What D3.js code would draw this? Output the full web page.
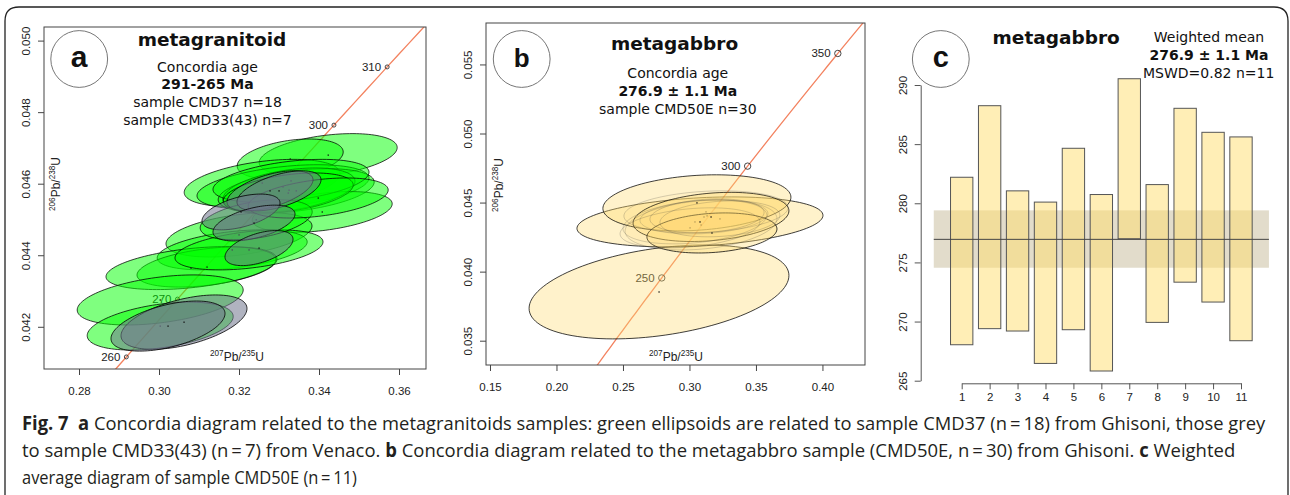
<!DOCTYPE html>
<html><head><meta charset="utf-8">
<script src="https://cdn.jsdelivr.net/npm/d3@7"></script>
<style>body{margin:0;background:#fff}</style>
</head><body>
<svg id="fig" width="1290" height="495" xmlns="http://www.w3.org/2000/svg"></svg>
<script>
// ---------------- DATA ----------------
// Panel a: metagranitoid, sample CMD37 (green, n=18): 207Pb/235U, 206Pb/238U, errors, correlation
const greenX   = [0.3423,0.3328,0.3258,0.3310,0.3343,0.3408,0.3325,0.3200,0.3183,0.3120,0.3080,0.3225,0.3003,0.3003,0.3330,0.3323,0.3243,0.3398];
const greenY   = [0.04680,0.04669,0.04602,0.04591,0.04580,0.04521,0.04582,0.04457,0.04415,0.04367,0.04364,0.04415,0.04275,0.04202,0.04608,0.04574,0.04499,0.04560];
const greenSX  = [0.01725,0.01325,0.0195,0.0215,0.0195,0.0175,0.0165,0.01825,0.01875,0.0175,0.02125,0.0185,0.02075,0.01825,0.0195,0.01625,0.0140,0.0175];
const greenSY  = [0.00060,0.00056,0.00066,0.00062,0.00062,0.00057,0.00062,0.00062,0.00056,0.00056,0.00060,0.00056,0.00070,0.00067,0.00060,0.00056,0.00056,0.00056];
const greenRho = [0.35,0.35,0.40,0.40,0.40,0.40,0.40,0.40,0.40,0.40,0.40,0.40,0.40,0.40,0.40,0.40,0.40,0.40];
// Panel a: sample CMD33(43) (grey, n=7)
const greyX   = [0.30625,0.30225,0.32775,0.3300,0.3205,0.32375,0.3250];
const greyY   = [0.04213,0.04202,0.04580,0.04580,0.04521,0.04490,0.04420];
const greySX  = [0.01575,0.01425,0.01075,0.0105,0.00975,0.01025,0.0085];
const greySY  = [0.00076,0.00070,0.00056,0.00056,0.00050,0.00050,0.00049];
const greyRho = [0.50,0.50,0.55,0.55,0.50,0.50,0.50];
// Panel b: metagabbro CMD50E
const gabX   = [0.2771,0.3079,0.3056,0.3162,0.3169,0.3087,0.3109,0.3041,0.3124,0.3004,0.3229,0.3132];
const gabY   = [0.03853,0.04360,0.04498,0.04396,0.04280,0.04338,0.04396,0.04360,0.04433,0.04317,0.04382,0.04404];
const gabSX  = [0.0977,0.0925,0.0707,0.0586,0.0489,0.0571,0.0481,0.0541,0.0617,0.0526,0.0451,0.0429];
const gabSY  = [0.00340,0.00181,0.00203,0.00178,0.00145,0.00181,0.00123,0.00159,0.00152,0.00145,0.00130,0.00123];
const gabRho = [0.35,0.26,0.20,0.25,0.20,0.25,0.20,0.30,0.20,0.30,0.20,0.20];
const gabMain = [true,true,true,true,true,false,false,false,false,false,false,false];
// Concordia age marks (Ma)
const agesA = [260,270,300,310];
const agesB = [250,300,350];
// Axis ticks
const xTicksA = [0.28,0.30,0.32,0.34,0.36];
const yTicksA = [0.042,0.044,0.046,0.048,0.050];
const xTicksB = [0.15,0.20,0.25,0.30,0.35,0.40];
const yTicksB = [0.035,0.040,0.045,0.050,0.055];
// Panel c: weighted mean (ages, Ma)
const wmIndex = [1,2,3,4,5,6,7,8,9,10,11];
const wmTop    = [282.2,288.25,281.05,280.1,284.65,280.74,290.53,281.58,288.03,286.0,285.61];
const wmBottom = [268.04,269.4,269.2,266.46,269.31,265.82,277.0,269.93,273.33,271.65,268.38];
const wmMean = 276.95, wmLo = 274.55, wmHi = 279.4;
const yTicksC = [265,270,275,280,285,290];
// decay constants (per Ma)
const L238 = 1.55125e-4, L235 = 9.8485e-4;

// ---------------- DRAW ----------------
const svg = d3.select('#fig');
const TXT = "'DejaVu Sans', sans-serif";
const TICK = "'Liberation Sans', Arial, sans-serif";
const concX = t => Math.exp(L235*t)-1;
const concY = t => Math.exp(L238*t)-1;

// outer frame
svg.append('path')
  .attr('d','M5,520 L5,21 Q5,7 19,7 L1274,7 Q1288,7 1288,21 L1288,520')
  .attr('fill','none').attr('stroke','#222').attr('stroke-width',1.3);

function ellipsePts(cx, cy, sx, sy, r){
  return d3.range(121).map(i=>{
    const t = 2*Math.PI*i/120;
    return [cx + sx*Math.cos(t), cy + sy*(r*Math.cos(t) + Math.sqrt(1-r*r)*Math.sin(t))];
  });
}

function supLabel(t, parts, size){
  t.append('tspan').attr('font-size', size*0.68).attr('dy', -size*0.38).text(parts[0]);
  t.append('tspan').attr('font-size', size).attr('dy', size*0.38).text(parts[1]);
  t.append('tspan').attr('font-size', size*0.68).attr('dy', -size*0.38).text(parts[2]);
  t.append('tspan').attr('font-size', size).attr('dy', size*0.38).text(parts[3]);
}

function concordiaPanel(cfg){
  const {x, y, id} = cfg;
  const [x0,x1] = x.range(), [y1,y0] = y.range();
  const g = svg.append('g');
  svg.append('defs').append('clipPath').attr('id', id)
    .append('rect').attr('x',x0).attr('y',y0).attr('width',x1-x0).attr('height',y1-y0);
  const pg = g.append('g').attr('clip-path',`url(#${id})`);
  // concordia curve
  const ages = d3.range(150, 420, 2);
  pg.append('path')
    .attr('d', d3.line().x(t=>x(concX(t))).y(t=>y(concY(t)))(ages))
    .attr('fill','none').attr('stroke','#f3825f').attr('stroke-width',1.3);
  // age marks
  pg.selectAll('circle.age').data(cfg.ages).join('circle')
    .attr('cx',t=>x(concX(t))).attr('cy',t=>y(concY(t))).attr('r',cfg.markR)
    .attr('fill','none').attr('stroke','#333').attr('stroke-width',0.9);
  pg.selectAll('text.age').data(cfg.ages).join('text')
    .attr('x',t=>x(concX(t))-cfg.markR-4).attr('y',t=>y(concY(t))+4)
    .attr('text-anchor','end').attr('font-family',TICK).attr('font-size',11.5).attr('fill','#222')
    .text(t=>t);
  // ellipses
  const line = d3.line().x(d=>x(d[0])).y(d=>y(d[1]));
  cfg.sets.forEach(s=>{
    s.X.forEach((cx,i)=>{
      const main = s.main ? s.main[i] : true;
      pg.append('path').attr('d', line(ellipsePts(cx, s.Y[i], s.SX[i], s.SY[i], s.R[i])))
        .attr('fill', main ? s.fill : s.fillFaint)
        .attr('stroke', main ? s.stroke : s.strokeFaint).attr('stroke-width', 1);
    });
    s.X.forEach((cx,i)=>{
      const main = s.main ? s.main[i] : true;
      pg.append('rect').attr('x', x(cx)-0.6).attr('y', y(s.Y[i])-0.6).attr('width',1.3).attr('height',1.3)
        .attr('fill', main ? '#111' : 'rgba(0,0,0,0.3)');
    });
  });
  // box
  g.append('rect').attr('x',x0).attr('y',y0).attr('width',x1-x0).attr('height',y1-y0)
    .attr('fill','none').attr('stroke','#444').attr('stroke-width',1);
  // axes
  const ax = g.append('g').attr('transform',`translate(0,${y1})`)
    .call(d3.axisBottom(x).tickValues(cfg.xTicks).tickFormat(d3.format('.2f')).tickSize(6).tickPadding(12));
  const ay = g.append('g').attr('transform',`translate(${x0},0)`)
    .call(d3.axisLeft(y).tickValues(cfg.yTicks).tickFormat(d3.format('.3f')).tickSize(6));
  [ax,ay].forEach(a=>{
    a.select('.domain').remove();
    a.selectAll('line').attr('stroke','#444');
    a.selectAll('text').attr('font-family',TICK).attr('font-size',11.5).attr('fill','#222');
  });
  ay.selectAll('text').attr('x',null).attr('dy',null).attr('text-anchor','middle')
    .attr('transform','translate(-14,0) rotate(-90)');
  // axis titles
  const xt = g.append('text').attr('x',cfg.xLab[0]).attr('y',cfg.xLab[1]).attr('text-anchor','middle')
    .attr('font-family',TICK).attr('fill','#222');
  supLabel(xt, ['207','Pb/','235','U'], 12);
  const yt = g.append('text').attr('transform',`translate(${cfg.yLab[0]},${cfg.yLab[1]}) rotate(-90)`)
    .attr('text-anchor','middle').attr('font-family',TICK).attr('fill','#222');
  supLabel(yt, ['206','Pb/','238','U'], 12);
  return g;
}

// Panel a
const xA = d3.scaleLinear().domain([0.27125,0.36675]).range([44,426]);
const yA = d3.scaleLinear().domain([0.04082,0.05038]).range([369,27]);
concordiaPanel({x:xA, y:yA, id:'clipA', ages:agesA, markR:2, xTicks:xTicksA, yTicks:yTicksA,
  xLab:[237,361], yLab:[60,184],
  sets:[
    {X:greenX,Y:greenY,SX:greenSX,SY:greenSY,R:greenRho,fill:'rgba(0,255,0,0.5)',stroke:'rgba(0,0,0,0.75)'},
    {X:greyX,Y:greyY,SX:greySX,SY:greySY,R:greyRho,fill:'rgba(112,116,140,0.55)',stroke:'rgba(0,0,0,0.8)'}
  ]});

// Panel b
const xB = d3.scaleLinear().domain([0.147,0.432]).range([486,865]);
const yB = d3.scaleLinear().domain([0.03324,0.05800]).range([365,23]);
concordiaPanel({x:xB, y:yB, id:'clipB', ages:agesB, markR:3.2, xTicks:xTicksB, yTicks:yTicksB,
  xLab:[676,361], yLab:[503,185],
  sets:[
    {X:gabX,Y:gabY,SX:gabSX,SY:gabSY,R:gabRho,main:gabMain,
     fill:'rgba(255,218,110,0.36)',fillFaint:'rgba(255,218,110,0.08)',
     stroke:'rgba(0,0,0,0.75)',strokeFaint:'rgba(60,60,60,0.22)'}
  ]});

// Panel c
const xC = d3.scaleLinear().domain([1,11]).range([961.7,1241]);
const yC = d3.scaleLinear().domain([265,290]).range([380.7,85]);
const gc = svg.append('g');
gc.append('rect').attr('x',xC(0)).attr('width',xC(12)-xC(0))
  .attr('y',yC(wmHi)).attr('height',yC(wmLo)-yC(wmHi)).attr('fill','#e2dccb');
gc.selectAll('rect.bar').data(wmIndex).join('rect').attr('class','bar')
  .attr('x',i=>xC(i-0.4)).attr('width',xC(1.4)-xC(0.6))
  .attr('y',(i,k)=>yC(wmTop[k])).attr('height',(i,k)=>yC(wmBottom[k])-yC(wmTop[k]))
  .attr('fill','rgba(255,222,110,0.5)').attr('stroke','#555').attr('stroke-width',1);
gc.append('line').attr('x1',xC(0)).attr('x2',xC(12)).attr('y1',yC(wmMean)).attr('y2',yC(wmMean))
  .attr('stroke','#444').attr('stroke-width',1);
const axc = gc.append('g').attr('transform',`translate(0,383.3)`)
  .call(d3.axisBottom(xC).tickValues(wmIndex).tickFormat(d3.format('d')).tickSize(6).tickSizeOuter(0).tickPadding(4));
const ayc = gc.append('g').attr('transform',`translate(920.7,0)`)
  .call(d3.axisLeft(yC).tickValues(yTicksC).tickFormat(d3.format('d')).tickSize(6).tickSizeOuter(0));
[axc,ayc].forEach(a=>{
  a.selectAll('line,.domain').attr('stroke','#555');
  a.selectAll('text').attr('font-family',TICK).attr('font-size',11.5).attr('fill','#222');
});
ayc.selectAll('text').attr('x',null).attr('dy',null).attr('text-anchor','middle')
  .attr('transform','translate(-14,0) rotate(-90)');

// ---------- annotations ----------
function circ(cx, cy, letter, fs){
  svg.append('circle').attr('cx',cx).attr('cy',cy).attr('r',28.4)
    .attr('fill','#fff').attr('stroke','#777').attr('stroke-width',1);
  svg.append('text').attr('x',cx).attr('y',cy+8).attr('text-anchor','middle')
    .attr('font-family',TICK).attr('font-weight','bold').attr('font-size',fs).attr('fill','#111').text(letter);
}
circ(79.2,59,'a',30); circ(521.7,59,'b',26); circ(940.8,59,'c',29);

function ann(x, y, txt, size, bold){
  svg.append('text').attr('x',x).attr('y',y).attr('text-anchor','middle')
    .attr('font-family',TXT).attr('font-size',size).attr('font-weight',bold?'bold':'normal')
    .attr('fill','#111').text(txt);
}
ann(212,45.5,'metagranitoid',18.5,true);
ann(207.5,71.7,'Concordia age',14);
ann(207.5,89.3,'291-265 Ma',14,true);
ann(207.5,107.3,'sample CMD37 n=18',14);
ann(207.5,125,'sample CMD33(43) n=7',14);

ann(674.5,50,'metagabbro',18.5,true);
ann(677.8,78.3,'Concordia age',14);
ann(677.8,95.7,'276.9 \u00b1 1.1 Ma',14,true);
ann(677.8,113.5,'sample CMD50E n=30',14);

ann(1056.2,44,'metagabbro',18.5,true);
ann(1209,42.3,'Weighted mean',14);
ann(1209,60,'276.9 \u00b1 1.1 Ma',14,true);
ann(1208.7,77.7,'MSWD=0.82 n=11',14);

// ---------- caption (horizontally condensed by scaling) ----------
const CAP = "'Open Sans', 'Noto Sans', sans-serif";
const capLines = [
  {y:430, len:1244, parts:[['Fig. 7',1],['  ',0],['a',1],[' Concordia diagram related to the metagranitoids samples: green ellipsoids are related to sample CMD37 (n\u2009=\u200918) from Ghisoni, those grey',0]]},
  {y:457, len:1214, parts:[['to sample CMD33(43) (n\u2009=\u20097) from Venaco. ',0],['b',1],[' Concordia diagram related to the metagabbro sample (CMD50E, n\u2009=\u200930) from Ghisoni. ',0],['c',1],[' Weighted',0]]},
  {y:484, len:335, parts:[['average diagram of sample CMD50E (n\u2009=\u200911)',0]]}
];
capLines.forEach(l=>{
  const g = svg.append('g');
  const t = g.append('text').attr('x',0).attr('y',0).attr('font-family',CAP).attr('font-size',19)
    .attr('fill','#231f20').style('white-space','pre');
  l.parts.forEach(p=>t.append('tspan').attr('font-weight',p[1]?'bold':'normal').text(p[0]));
  const natural = t.node().getComputedTextLength();
  const k = natural > 0 ? l.len / natural : 1;
  g.attr('transform',`translate(22,${l.y}) scale(${k},1)`);
});
</script>
</body></html>
